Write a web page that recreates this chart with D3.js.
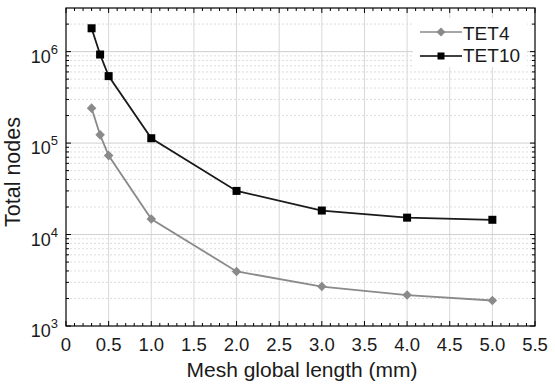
<!DOCTYPE html>
<html><head><meta charset="utf-8">
<script src="https://cdn.jsdelivr.net/npm/d3@7"></script>
<style>body{margin:0;background:#fff}svg{display:block}text{font-family:"Liberation Sans",Arial,sans-serif}</style>
</head><body><svg id="c" width="555" height="387"></svg>
<script>
const meshLength = [0.3, 0.4, 0.5, 1.0, 2.0, 3.0, 4.0, 5.0];
const tet4 = [241000, 123000, 73000, 14800, 3950, 2700, 2180, 1900];
const tet10 = [1800000, 930000, 540000, 113000, 30000, 18300, 15300, 14500];
const xTicks = [0, 0.5, 1.0, 1.5, 2.0, 2.5, 3.0, 3.5, 4.0, 4.5, 5.0, 5.5];
const xTickLabels = ["0","0.5","1.0","1.5","2.0","2.5","3.0","3.5","4.0","4.5","5.0","5.5"];
const yDecades = [1e3, 1e4, 1e5, 1e6];
const yExp = ["3","4","5","6"];

const svg = d3.select("#c");
const L = 66, R = 535, T = 8, B = 326;
const x = d3.scaleLinear().domain([0, 5.5]).range([L, R]);
const y = d3.scaleLog().domain([1e3, 3e6]).range([B, T]);

// minor horizontal grid
const minors = [];
for (let d = 1e3; d < 3e6; d *= 10) for (let k = 2; k <= 9; k++) if (d*k < 3e6) minors.push(d*k);
const g = svg.append("g");
g.selectAll(".mg").data(minors).enter().append("line")
  .attr("x1", L).attr("x2", R).attr("y1", d => y(d)).attr("y2", d => y(d))
  .attr("stroke", "#d4d4d4").attr("stroke-width", 0.8).attr("stroke-dasharray", "2,2");
g.selectAll(".vg").data(xTicks.slice(1, -1)).enter().append("line")
  .attr("x1", d => x(d)).attr("x2", d => x(d)).attr("y1", T).attr("y2", B)
  .attr("stroke", "#d8d8d8").attr("stroke-width", 1);
g.selectAll(".hg").data(yDecades.slice(1)).enter().append("line")
  .attr("x1", L).attr("x2", R).attr("y1", d => y(d)).attr("y2", d => y(d))
  .attr("stroke", "#cfcfcf").attr("stroke-width", 1);

// ticks
const xMinor = d3.range(0, 5.51, 0.1);
const tk = svg.append("g").attr("stroke", "#000").attr("stroke-width", 1);
xMinor.forEach((v, i) => {
  const major = i % 5 === 0;
  const len = major ? 5 : 3;
  tk.append("line").attr("x1", x(v)).attr("x2", x(v)).attr("y1", B).attr("y2", B - len);
  tk.append("line").attr("x1", x(v)).attr("x2", x(v)).attr("y1", T).attr("y2", T + len);
});
yDecades.concat(minors).forEach(v => {
  const major = yDecades.includes(v);
  const len = major ? 5 : 3;
  tk.append("line").attr("x1", L).attr("x2", L + len).attr("y1", y(v)).attr("y2", y(v));
  tk.append("line").attr("x1", R).attr("x2", R - len).attr("y1", y(v)).attr("y2", y(v));
});

// frame
svg.append("rect").attr("x", L).attr("y", T).attr("width", R - L).attr("height", B - T)
  .attr("fill", "none").attr("stroke", "#000").attr("stroke-width", 1.2);

// x tick labels
svg.selectAll(".xl").data(xTicks).enter().append("text")
  .attr("x", d => x(d)).attr("y", B + 25).attr("text-anchor", "middle")
  .attr("font-size", 18.5).attr("fill", "#1a1a1a").text((d, i) => xTickLabels[i]);
// y tick labels
yDecades.forEach((v, i) => {
  const t = svg.append("text").attr("x", L - 8).attr("y", y(v) + 11).attr("text-anchor", "end")
    .attr("font-size", 18).attr("fill", "#1a1a1a");
  t.append("tspan").text("10");
  t.append("tspan").attr("dy", -9).attr("font-size", 13).text(yExp[i]);
});

svg.append("text").attr("x", 302).attr("y", 377).attr("text-anchor", "middle")
  .attr("font-size", 21).attr("fill", "#1a1a1a").text("Mesh global length (mm)");
svg.append("text").attr("transform", `translate(20,172) rotate(-90)`)
  .attr("text-anchor", "middle").attr("font-size", 21.5).attr("fill", "#1a1a1a").text("Total nodes");

// series
const line = d3.line().x(d => x(d[0])).y(d => y(d[1]));
const s4 = meshLength.map((m, i) => [m, tet4[i]]);
const s10 = meshLength.map((m, i) => [m, tet10[i]]);
svg.append("path").datum(s4).attr("d", line).attr("fill", "none").attr("stroke", "#8a8a8a").attr("stroke-width", 1.8);
svg.append("path").datum(s10).attr("d", line).attr("fill", "none").attr("stroke", "#1a1a1a").attr("stroke-width", 1.8);
const diamond = d3.symbol().type(d3.symbolSquare).size(46);
svg.selectAll(".d4").data(s4).enter().append("path").attr("d", diamond)
  .attr("transform", d => `translate(${x(d[0])},${y(d[1])}) rotate(45)`).attr("fill", "#8a8a8a");
svg.selectAll(".d10").data(s10).enter().append("rect")
  .attr("x", d => x(d[0]) - 4).attr("y", d => y(d[1]) - 4).attr("width", 8).attr("height", 8).attr("fill", "#000");

// legend
const lg = svg.append("g");
lg.append("rect").attr("x", 413).attr("y", 18).attr("width", 114).attr("height", 49).attr("fill", "#fff");
lg.append("line").attr("x1", 420).attr("x2", 462).attr("y1", 32).attr("y2", 32).attr("stroke", "#8a8a8a").attr("stroke-width", 1.6);
lg.append("path").attr("d", d3.symbol().type(d3.symbolSquare).size(40)).attr("transform", "translate(441,32) rotate(45)").attr("fill", "#8a8a8a");
lg.append("line").attr("x1", 420).attr("x2", 462).attr("y1", 56).attr("y2", 56).attr("stroke", "#000").attr("stroke-width", 1.6);
lg.append("rect").attr("x", 437.5).attr("y", 52.5).attr("width", 7).attr("height", 7).attr("fill", "#000");
lg.append("text").attr("x", 463).attr("y", 40).attr("font-size", 19).attr("fill", "#1a1a1a").text("TET4");
lg.append("text").attr("x", 463).attr("y", 62).attr("font-size", 19).attr("fill", "#1a1a1a").text("TET10");
</script></body></html>
